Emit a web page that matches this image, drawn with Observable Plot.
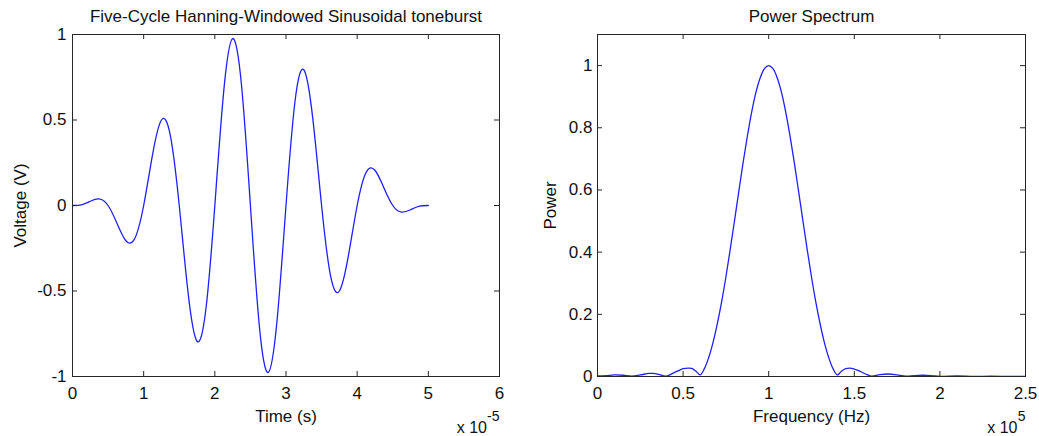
<!DOCTYPE html>
<html>
<head>
<meta charset="utf-8">
<script src="https://cdn.jsdelivr.net/npm/d3@7"></script>
<script src="https://cdn.jsdelivr.net/npm/@observablehq/plot@0.6"></script>
<style>
  html, body { margin: 0; padding: 0; background: #ffffff; }
  #wrap { position: relative; width: 1039px; height: 436px; overflow: hidden; background: #fff; }
  #left, #right { position: absolute; top: 0; }
  #left { left: 0; }
  #right { left: 520px; }
</style>
</head>
<body>
<div id="wrap"><div id="left"></div><div id="right"></div></div>
<script>
// ---- Left panel: toneburst (time in units of 1e-5 s, voltage in V) ----
const timeE5 = [0, 0.125, 0.25, 0.375, 0.5, 0.625, 0.75, 0.875, 1, 1.125, 1.25, 1.375, 1.5, 1.625, 1.75, 1.875,
  2, 2.125, 2.25, 2.375, 2.5, 2.625, 2.75, 2.875, 3, 3.125, 3.25, 3.375, 3.5, 3.625, 3.75, 3.875,
  4, 4.125, 4.25, 4.375, 4.5, 4.625, 4.75, 4.875, 5];
const voltage = [0, 0.004, 0.025, 0.039, 0, -0.104, -0.206, -0.193, 0, 0.298, 0.500, 0.409, 0, -0.514, -0.794, -0.604,
  0, 0.669, 0.976, 0.703, 0, -0.703, -0.976, -0.669, 0, 0.604, 0.794, 0.514, 0, -0.409, -0.500, -0.298,
  0, 0.193, 0.206, 0.104, 0, -0.039, -0.025, -0.004, 0];
const timeTicks = [0, 1, 2, 3, 4, 5, 6];
const voltTicks = [-1, -0.5, 0, 0.5, 1];

// ---- Right panel: power spectrum (frequency in units of 1e5 Hz) ----
const freqE5 = [0, 0.05, 0.10, 0.15, 0.20, 0.25, 0.30, 0.325, 0.35, 0.40, 0.425, 0.45, 0.475, 0.50, 0.53, 0.55, 0.575, 0.60,
  0.625, 0.65, 0.675, 0.70, 0.725, 0.75, 0.775, 0.80, 0.825, 0.85, 0.875, 0.90, 0.925, 0.95, 0.975, 1.00,
  1.025, 1.05, 1.075, 1.10, 1.125, 1.15, 1.175, 1.20, 1.225, 1.25, 1.275, 1.30, 1.325, 1.35, 1.375, 1.40,
  1.425, 1.45, 1.475, 1.50, 1.525, 1.55, 1.575, 1.60, 1.65, 1.70, 1.75, 1.80, 1.85, 1.90, 1.95, 2.00,
  2.10, 2.20, 2.30, 2.40, 2.50];
const power = [0.002, 0.003, 0.005, 0.004, 0.001, 0.005, 0.010, 0.010, 0.008, 0.001, 0.006, 0.013, 0.019, 0.025, 0.027, 0.026, 0.017, 0.005,
  0.026, 0.062, 0.110, 0.170, 0.240, 0.320, 0.408, 0.500, 0.594, 0.686, 0.772, 0.849, 0.913, 0.960, 0.990, 1.000,
  0.990, 0.960, 0.913, 0.849, 0.772, 0.686, 0.594, 0.500, 0.408, 0.320, 0.240, 0.170, 0.110, 0.062, 0.026, 0.005,
  0.017, 0.025, 0.027, 0.024, 0.019, 0.012, 0.006, 0.001, 0.006, 0.008, 0.005, 0.001, 0.003, 0.004, 0.003, 0.0005,
  0.002, 0.0003, 0.001, 0.0002, 0.0005];
const freqTicks = [0, 0.5, 1, 1.5, 2, 2.5];
const powerTicks = [0, 0.2, 0.4, 0.6, 0.8, 1];

const wave = timeE5.map((t, i) => ({t, v: voltage[i]}));
const spec = freqE5.map((f, i) => ({f, p: power[i]}));

const FONT = "'Liberation Sans', Arial, Helvetica, sans-serif";
const AX = "#262626";
const BLUE = "#1f1fff";
const TICK = 5;

function panel({width, marginLeft, marginRight, xDomain, yDomain, xTicks, yTicks, yPad,
                data, x, y, curve, title, xLabel, yLabel, yLabelDx, mult, sup, multDx}) {
  const height = 436, marginTop = 34, marginBottom = 60;
  const innerW = width - marginLeft - marginRight;
  const innerH = height - marginTop - marginBottom;
  const fmt = d => String(d);
  return Plot.plot({
    width, height, marginLeft, marginRight, marginTop, marginBottom,
    style: {fontFamily: FONT, fontSize: "17px", color: AX, background: "#fff", overflow: "visible"},
    x: {domain: xDomain},
    y: {domain: yDomain},
    marks: [
      Plot.line(data, {x, y, stroke: BLUE, strokeWidth: 1.3, curve}),
      // inward tick marks on all four sides (MATLAB box style)
      Plot.tickX(xTicks, {x: d => d, stroke: AX, insetTop: innerH - TICK}),
      Plot.tickX(xTicks, {x: d => d, stroke: AX, insetBottom: innerH - TICK}),
      Plot.tickY(yTicks, {y: d => d, stroke: AX, insetRight: innerW - TICK}),
      Plot.tickY(yTicks, {y: d => d, stroke: AX, insetLeft: innerW - TICK}),
      Plot.frame({stroke: AX, strokeWidth: 1}),
      Plot.axisX({ticks: xTicks, tickSize: 0, tickPadding: 10, tickFormat: fmt, label: null, fill: "#111"}),
      Plot.axisY({ticks: yTicks, tickSize: 0, tickPadding: yPad, tickFormat: fmt, label: null, fill: "#111"}),
      Plot.text([title], {text: d => d, frameAnchor: "top", dy: -12.5, lineAnchor: "bottom", fill: "#111"}),
      Plot.text([xLabel], {text: d => d, frameAnchor: "bottom", dy: 45, lineAnchor: "bottom", fill: "#111"}),
      Plot.text([yLabel], {text: d => d, frameAnchor: "left", dx: yLabelDx, rotate: -90,
        textAnchor: "middle", lineAnchor: "bottom", fill: "#111"}),
      Plot.text([mult], {text: d => d, frameAnchor: "bottom-right", dx: multDx, dy: 56.5,
        textAnchor: "end", lineAnchor: "bottom", fontSize: 16, fill: "#111"}),
      Plot.text([sup], {text: d => d, frameAnchor: "bottom-right", dx: 0, dy: 44.5,
        textAnchor: "end", lineAnchor: "bottom", fontSize: 14, fill: "#111"})
    ]
  });
}

document.getElementById("left").append(panel({
  width: 520, marginLeft: 72, marginRight: 21,
  xDomain: [0, 6], yDomain: [-1, 1], xTicks: timeTicks, yTicks: voltTicks, yPad: 6,
  data: wave, x: "t", y: "v", curve: "natural",
  title: "Five-Cycle Hanning-Windowed Sinusoidal toneburst",
  xLabel: "Time (s)", yLabel: "Voltage (V)", yLabelDx: -47,
  mult: "x 10", sup: "-5", multDx: -12.5
}));

document.getElementById("right").append(panel({
  width: 519, marginLeft: 77, marginRight: 14,
  xDomain: [0, 2.5], yDomain: [0, 1.1], xTicks: freqTicks, yTicks: powerTicks, yPad: 5,
  data: spec, x: "f", y: "p", curve: "catmull-rom",
  title: "Power Spectrum",
  xLabel: "Frequency (Hz)", yLabel: "Power", yLabelDx: -42,
  mult: "x 10", sup: "5", multDx: -8
}));
</script>
</body>
</html>
